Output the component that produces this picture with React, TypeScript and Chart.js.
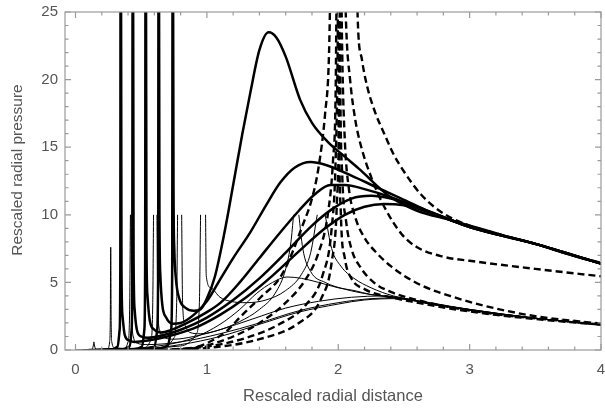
import React, { useEffect, useRef } from "react";
import { Chart, registerables } from "chart.js";

Chart.register(...registerables);

// ---- axis ticks ----
const xTickValues = [0, 1, 2, 3, 4];
const yTickValues = [0, 5, 10, 15, 20, 25];
const xTitle = "Rescaled radial distance";
const yTitle = "Rescaled radial pressure";

type P = [number, number | null];

// ---- thick solid curves (spike, minimum, broad peak) ----
const thick1: P[] = [[0.3,0],[0.6,0.05],[0.7,0.3],[0.728,1.5],[0.736,6],[0.739,30],[0.742,30],[0.746,12],[0.752,7.5],[0.765,5.2],[0.79,3.8],[0.84,3.1],[0.9,2.9],[0.95,3.0],[1.0,3.8],[1.06,5.4],[1.13,8.5],[1.2,12.2],[1.27,16],[1.33,19],[1.4,22.2],[1.47,23.5],[1.53,23.1],[1.6,21.7],[1.71,18.5],[1.8,16.8],[1.92,15.4],[2.05,14.3],[2.17,13.3],[2.3,12.1],[2.4,11.3],[2.6,10.3],[2.86,9.6],[3.0,9.2],[3.25,8.5],[3.5,7.85],[3.75,7.1],[4.0,6.4]];
const thick2: P[] = [[0.25,0],[0.5,0.05],[0.6,0.25],[0.622,1.5],[0.629,6],[0.632,30],[0.635,30],[0.639,10],[0.646,5.5],[0.66,3.4],[0.69,2.4],[0.74,1.95],[0.8,2.0],[0.9,2.6],[1.0,3.6],[1.1,5.2],[1.2,6.8],[1.33,8.7],[1.45,10.7],[1.56,12.4],[1.67,13.5],[1.79,13.9],[1.9,13.7],[2.1,12.9],[2.3,12.0],[2.48,11.2],[2.7,10.2],[2.86,9.6],[3.0,9.15],[3.25,8.45],[3.5,7.85],[3.75,7.1],[4.0,6.4]];
const thick3: P[] = [[0.2,0],[0.45,0.05],[0.505,0.25],[0.524,1.5],[0.53,6],[0.533,30],[0.536,30],[0.54,8],[0.548,4],[0.565,2.2],[0.6,1.5],[0.65,1.3],[0.72,1.45],[0.85,2.0],[1.0,2.8],[1.105,3.5],[1.25,5.0],[1.4,6.8],[1.55,8.6],[1.7,10.3],[1.82,11.5],[1.94,12.2],[2.05,12.2],[2.2,11.9],[2.4,11.3],[2.6,10.5],[2.86,9.6],[3.0,9.1],[3.5,7.85],[4.0,6.4]];
const thick4: P[] = [[0.15,0],[0.36,0.05],[0.41,0.25],[0.427,1.5],[0.432,6],[0.435,30],[0.438,30],[0.442,7],[0.45,3],[0.467,1.5],[0.5,1.0],[0.55,0.9],[0.65,1.05],[0.8,1.5],[1.0,2.4],[1.2,3.7],[1.4,5.3],[1.6,7.2],[1.8,9.2],[1.95,10.4],[2.1,11.2],[2.25,11.4],[2.4,11.2],[2.6,10.6],[2.86,9.6],[3.0,9.1],[3.5,7.85],[4.0,6.4]];
const thick5: P[] = [[0.1,0],[0.28,0.05],[0.32,0.25],[0.336,1.5],[0.341,6],[0.343,30],[0.346,30],[0.35,6],[0.358,2.5],[0.375,1.1],[0.41,0.7],[0.45,0.6],[0.55,0.7],[0.7,1.0],[0.9,1.6],[1.1,2.6],[1.3,3.9],[1.5,5.5],[1.7,7.3],[1.9,9.0],[2.05,10.0],[2.2,10.6],[2.35,10.8],[2.5,10.7],[2.7,10.2],[2.86,9.6],[3.0,9.1],[3.5,7.85],[4.0,6.4]];

// ---- thin solid curves (spikes cut at 10) ----
const thin1: P[] = [[0.0,0],[0.12,0.03],[0.135,0.3],[0.14,0.6],[0.145,0.3],[0.16,0.03],[0.4,0.1],[0.7,0.4],[0.9,0.9],[1.1,1.9],[1.25,3.0],[1.38,4.2],[1.5,5.0],[1.61,5.4],[1.72,5.3],[1.85,5.0],[2.0,4.6],[2.12,4.4],[2.25,4.1],[2.4,3.9],[2.6,3.6],[2.8,3.25],[3.0,2.95],[3.25,2.6],[3.5,2.35],[3.75,2.1],[4.0,1.85]];
const thin2: P[] = [[0.05,0],[0.24,0.05],[0.26,0.6],[0.265,2.5],[0.268,7.6],[0.271,2.5],[0.276,0.6],[0.3,0.15],[0.5,0.1],[0.8,0.4],[1.1,1.0],[1.4,1.9],[1.7,2.8],[2.0,3.4],[2.2,3.7],[2.45,3.8],[2.7,3.4],[3.0,2.95],[3.5,2.35],[4.0,1.85]];
const thin3: P[] = [[0.1,0],[0.36,0.05],[0.4,0.6],[0.412,3],[0.418,10],[0.42,null],[0.422,10],[0.428,3],[0.44,1.0],[0.47,0.5],[0.55,0.4],[0.8,0.6],[1.1,1.2],[1.4,2.0],[1.7,2.9],[2.0,3.5],[2.25,3.8],[2.45,3.85],[2.7,3.4],[3.0,2.95],[3.5,2.35],[4.0,1.85]];
const thin4: P[] = [[0.2,0],[0.5,0.1],[0.575,0.8],[0.588,3.5],[0.594,10],[0.607,null],[0.62,10],[0.626,3.5],[0.64,1.5],[0.68,0.9],[0.75,0.8],[0.9,1.0],[1.1,1.5],[1.35,2.3],[1.6,3.1],[1.85,3.6],[2.1,3.9],[2.35,4.0],[2.5,3.8],[2.7,3.45],[3.0,3.0],[3.5,2.35],[4.0,1.85]];
const thin5: P[] = [[0.3,0],[0.65,0.15],[0.75,0.9],[0.77,3.5],[0.777,10],[0.79,null],[0.808,10],[0.815,3.5],[0.835,1.8],[0.87,1.3],[0.95,1.2],[1.1,1.5],[1.25,2.1],[1.4,3.0],[1.52,4.2],[1.6,6.0],[1.64,8.0],[1.66,10],[1.68,null],[1.7,10],[1.73,7.5],[1.79,5.8],[1.9,5.0],[2.05,4.5],[2.25,4.1],[2.45,3.9],[2.7,3.45],[3.0,3.0],[3.5,2.35],[4.0,1.87]];
const thin6: P[] = [[0.4,0],[0.8,0.3],[0.92,1.2],[0.943,3.5],[0.952,10],[0.97,null],[0.99,10],[0.995,5.5],[1.03,4.6],[1.1,3.9],[1.18,3.6],[1.3,3.5],[1.45,3.7],[1.6,4.4],[1.72,5.6],[1.79,7.2],[1.84,10],[1.87,null],[1.9,10],[1.95,7.5],[2.02,6.2],[2.12,5.3],[2.25,4.6],[2.42,4.0],[2.7,3.5],[3.0,3.0],[3.5,2.35],[4.0,1.88]];

// ---- thick dashed curves, right branches ----
const dashR1: P[] = [[2.135,30],[2.15,24],[2.18,21.5],[2.22,19.5],[2.28,17.6],[2.35,16],[2.42,14.5],[2.5,13.2],[2.63,11.5],[2.8,10.1],[3.0,9.2],[3.25,8.5],[3.5,7.85],[3.75,7.1],[4.0,6.45]];
const dashR2: P[] = [[2.045,30],[2.06,24],[2.09,20],[2.13,17],[2.17,15.2],[2.25,12.8],[2.35,10.6],[2.48,8.6],[2.6,7.6],[2.8,6.9],[3.0,6.6],[3.5,6.0],[4.0,5.45]];
const dashR3: P[] = [[2.02,30],[2.03,22],[2.05,15.5],[2.08,12],[2.13,9.8],[2.2,8.3],[2.3,7.1],[2.4,6.2],[2.5,5.5],[2.65,4.7],[2.85,4.0],[3.1,3.3],[3.5,2.5],[4.0,1.95]];
const dashR4: P[] = [[2.01,30],[2.015,20],[2.03,13],[2.06,9.5],[2.1,7.5],[2.17,6.1],[2.27,5.0],[2.4,4.3],[2.6,3.7],[2.86,3.15],[3.2,2.65],[3.6,2.25],[4.0,1.9]];
const dashR5: P[] = [[2.0,30],[2.005,18],[2.02,10],[2.05,6.8],[2.1,5.3],[2.2,4.5],[2.35,4.0],[2.55,3.6],[2.86,3.05],[3.2,2.6],[3.6,2.2],[4.0,1.88]];

// ---- thick dashed curves, left branches ----
const dashL1: P[] = [[0.85,0],[1.0,0.5],[1.15,1.4],[1.26,2.5],[1.41,3.9],[1.56,5.4],[1.65,7.2],[1.72,9.0],[1.8,11.2],[1.85,13.5],[1.9,17.5],[1.93,22],[1.945,30]];
const dashL2: P[] = [[0.75,0],[1.0,0.35],[1.2,1.0],[1.4,2.0],[1.6,3.5],[1.75,5.2],[1.85,7.2],[1.92,10],[1.96,14],[1.98,19],[1.99,30]];
const dashL3: P[] = [[0.65,0],[1.0,0.25],[1.3,0.9],[1.55,1.9],[1.75,3.3],[1.88,5.5],[1.95,9],[1.98,14],[1.995,22],[2.0,30]];
const dashL4: P[] = [[0.55,0],[1.0,0.15],[1.4,0.8],[1.7,2.0],[1.87,3.8],[1.95,6.5],[1.99,11],[2.005,18],[2.01,30]];

const thickCurves = [thick1, thick2, thick3, thick4, thick5];
const thinCurves = [thin1, thin2, thin3, thin4, thin5, thin6];
const dashedCurves = [dashR1, dashR2, dashR3, dashR4, dashR5, dashL1, dashL2, dashL3, dashL4];

const FONT = "'Liberation Sans', Arial, sans-serif";
const TEXT = "#555555";

const framePlugin = {
  id: "mmaFrame",
  afterDatasetsDraw(chart: any) {
    const { ctx, chartArea: a, scales } = chart;
    const xs = scales.x;
    const ys = scales.y;
    ctx.save();
    ctx.strokeStyle = "#9a9a9a";
    ctx.lineWidth = 1.2;
    ctx.strokeRect(a.left, a.top, a.right - a.left, a.bottom - a.top);
    ctx.beginPath();
    for (let i = 0; i <= 20; i++) {
      const v = i / 5;
      const px = xs.getPixelForValue(v);
      const len = i % 5 === 0 ? 6 : 3.5;
      ctx.moveTo(px, a.bottom);
      ctx.lineTo(px, a.bottom - len);
      ctx.moveTo(px, a.top);
      ctx.lineTo(px, a.top + len);
    }
    for (let i = 0; i <= 25; i++) {
      const py = ys.getPixelForValue(i);
      const len = i % 5 === 0 ? 6 : 3.5;
      ctx.moveTo(a.left, py);
      ctx.lineTo(a.left + len, py);
      ctx.moveTo(a.right, py);
      ctx.lineTo(a.right - len, py);
    }
    ctx.stroke();
    // y axis title
    ctx.fillStyle = TEXT;
    ctx.font = `15.5px ${FONT}`;
    ctx.textAlign = "center";
    ctx.textBaseline = "middle";
    ctx.translate(18, 170);
    ctx.rotate(-Math.PI / 2);
    ctx.fillText(yTitle, 0, 0);
    ctx.restore();
  },
};

const toPts = (arr: P[]) => arr.map(([x, y]) => ({ x, y }));

export default function App() {
  const ref = useRef<HTMLCanvasElement | null>(null);
  useEffect(() => {
    document.body.style.margin = "0";
    const datasets: any[] = [];
    thinCurves.forEach((c) =>
      datasets.push({ data: toPts(c), borderColor: "#000", borderWidth: 1.0, pointRadius: 0, cubicInterpolationMode: "monotone", spanGaps: false })
    );
    dashedCurves.forEach((c) =>
      datasets.push({ data: toPts(c), borderColor: "#000", borderWidth: 2.4, borderDash: [7, 4], pointRadius: 0, cubicInterpolationMode: "monotone" })
    );
    thickCurves.forEach((c) =>
      datasets.push({ data: toPts(c), borderColor: "#000", borderWidth: 2.5, pointRadius: 0, cubicInterpolationMode: "monotone" })
    );
    const chart = new Chart(ref.current as HTMLCanvasElement, {
      type: "line",
      data: { datasets },
      plugins: [framePlugin],
      options: {
        animation: false,
        responsive: false,
        devicePixelRatio: 1,
        layout: { padding: { top: 12, right: 4, left: 0, bottom: 0 } },
        plugins: { legend: { display: false }, tooltip: { enabled: false } },
        elements: { line: { borderCapStyle: "butt", borderJoinStyle: "round" } },
        scales: {
          x: {
            type: "linear",
            min: -0.08,
            max: 4,
            afterBuildTicks: (s: any) => { s.ticks = xTickValues.map((v) => ({ value: v })); },
            afterFit: (s: any) => { s.height = 58; s.paddingLeft = 0; s.paddingRight = 0; },
            grid: { display: false, drawTicks: false },
            border: { display: false },
            ticks: { padding: 11, color: TEXT, font: { family: FONT, size: 15 }, maxRotation: 0, autoSkip: false },
            title: { display: true, text: xTitle, color: TEXT, font: { family: FONT, size: 16.5 }, padding: { top: 0, bottom: 2 } },
          },
          y: {
            type: "linear",
            min: 0,
            max: 25,
            afterBuildTicks: (s: any) => { s.ticks = yTickValues.map((v) => ({ value: v })); },
            afterFit: (s: any) => { s.width = 65; s.paddingTop = 0; s.paddingBottom = 0; },
            grid: { display: false, drawTicks: false },
            border: { display: false },
            ticks: { padding: 7, color: TEXT, font: { family: FONT, size: 15 } },
          },
        },
      },
    });
    return () => chart.destroy();
  }, []);
  return (
    <div style={{ position: "absolute", left: 0, top: 0, width: 605, height: 408, background: "#fff" }}>
      <canvas ref={ref} width={605} height={408} style={{ width: 605, height: 408 }} />
    </div>
  );
}
